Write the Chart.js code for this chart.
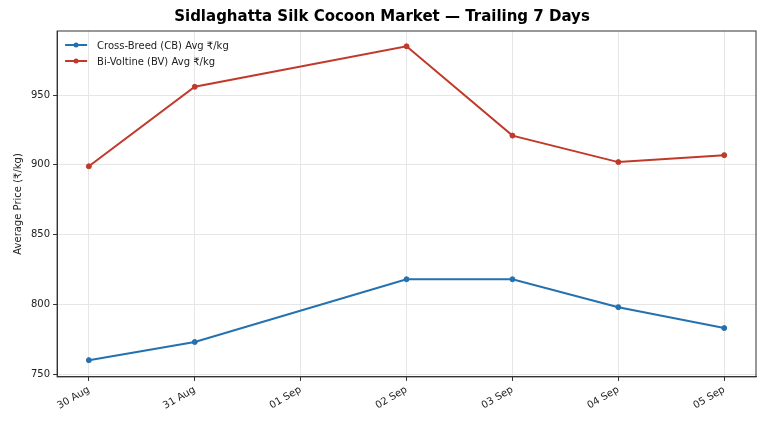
<!DOCTYPE html>
<html><head><meta charset="utf-8">
<script src="https://cdn.jsdelivr.net/npm/chart.js@4/dist/chart.umd.min.js"></script>
<style>body{margin:0;background:#fff}#w{width:768px;height:427px}</style>
</head><body><div id="w"><canvas id="c"></canvas></div>
<script>
const categories=['30 Aug','31 Aug','01 Sep','02 Sep','03 Sep','04 Sep','05 Sep'];
const cbValues=[760,773,null,818,818,798,783];
const bvValues=[899,956,null,985,921,902,907];
const yTicks=[750,800,850,900,950];
const F='DejaVu Sans';
const toPts=v=>v.map((y,i)=>({x:i,y}));
const legendIn={id:'legendIn',afterDraw(ch){const c=ch.ctx,a=ch.chartArea;c.save();
 c.strokeStyle='#333';c.lineWidth=1;c.strokeRect(a.left,a.top,a.right-a.left,a.bottom-a.top);
 ch.data.datasets.forEach((d,i)=>{const y=a.top+14+i*16,x=a.left+8;
  c.strokeStyle=d.borderColor;c.lineWidth=2;c.beginPath();c.moveTo(x,y);c.lineTo(x+22,y);c.stroke();
  c.fillStyle=d.borderColor;c.beginPath();c.arc(x+11,y,2.5,0,7);c.fill();
  c.fillStyle='#222';c.font='10px "'+F+'"';c.textBaseline='middle';c.fillText(d.label,x+32,y+1);});
 c.restore();}};
new Chart(document.getElementById('c'),{type:'line',
data:{datasets:[
{label:'Cross-Breed (CB) Avg ₹/kg',data:toPts(cbValues),borderColor:'#2471b0',backgroundColor:'#2471b0'},
{label:'Bi-Voltine (BV) Avg ₹/kg',data:toPts(bvValues),borderColor:'#c0392b',backgroundColor:'#c0392b'}]},
options:{responsive:true,maintainAspectRatio:false,animation:false,spanGaps:true,
 elements:{line:{borderWidth:2,tension:0},point:{radius:2.5,hoverRadius:3}},
 layout:{padding:{left:8,right:12,top:2,bottom:12}},
 plugins:{legend:{display:false},tooltip:{enabled:false},
  title:{display:true,text:'Sidlaghatta Silk Cocoon Market — Trailing 7 Days',color:'#000',font:{family:F,size:15,weight:'bold'},padding:{top:6,bottom:5}}},
 scales:{
  x:{type:'linear',min:-0.3,max:6.3,afterBuildTicks:s=>{s.ticks=categories.map((_,i)=>({value:i}));},
   ticks:{callback:v=>categories[v],maxRotation:30,minRotation:30,color:'#222',font:{family:F,size:10}},
   grid:{color:'#e6e6e6',drawTicks:true,tickColor:'#333',tickLength:4},border:{color:'#333'}},
  y:{min:748,max:996,afterBuildTicks:s=>{s.ticks=yTicks.map(v=>({value:v}));},
   title:{display:true,text:'Average Price (₹/kg)',color:'#222',font:{family:F,size:10}},
   ticks:{color:'#222',font:{family:F,size:10}},
   grid:{color:'#e6e6e6',tickColor:'#333',tickLength:4},border:{color:'#333'}}}},
plugins:[legendIn]});
</script></body></html>
